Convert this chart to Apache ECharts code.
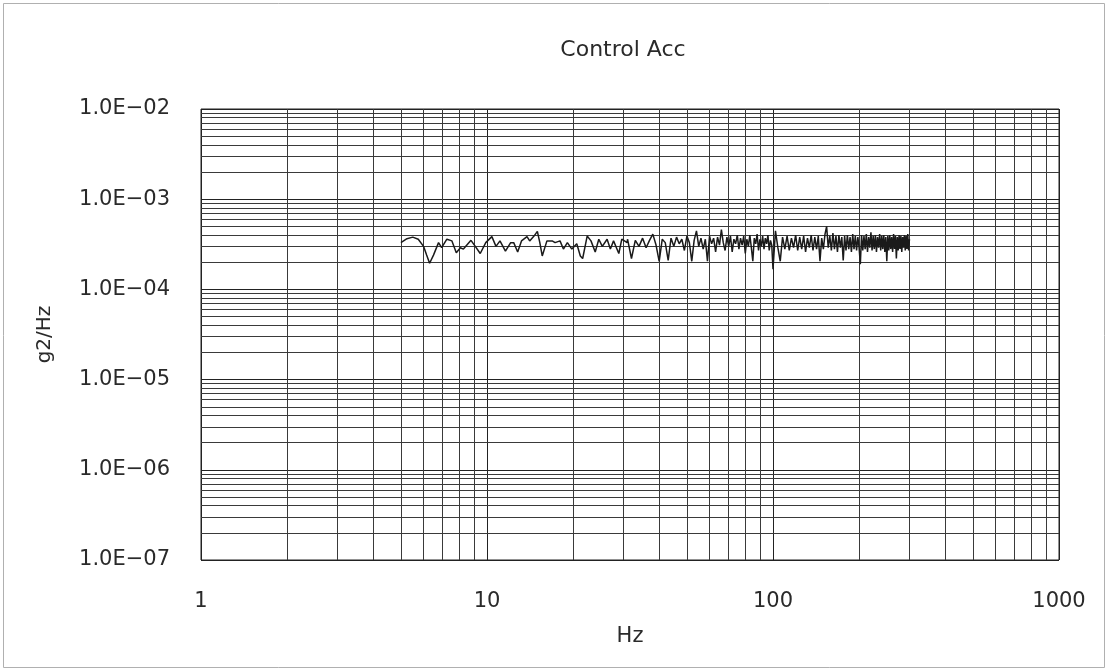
<!DOCTYPE html>
<html>
<head>
<meta charset="utf-8">
<script src="https://cdn.jsdelivr.net/npm/echarts@6/dist/echarts.min.js"></script>
<style>
html,body{margin:0;padding:0;background:#fff;}
#chart{width:1109px;height:672px;}
</style>
</head>
<body>
<div id="chart"></div>
<script>
// Frequencies (Hz) and PSD values (g2/Hz)
const freqHz = [
  5.0, 5.25, 5.5, 5.75, 6.0, 6.15, 6.3, 6.5, 6.77, 6.94, 7.24, 7.54, 7.81, 8.07, 8.27, 8.79, 9.1, 9.47, 9.9,
  10.4, 10.75, 11.1, 11.6, 12.1, 12.4, 12.8, 13.2, 13.8, 14.1, 14.6, 15.0, 15.3, 15.6, 16.2, 16.9, 17.3, 18.0,
  18.5, 19.1, 19.8, 20.6, 21.2, 21.6, 22.4, 23.1, 23.9, 24.6, 25.3, 26.3, 27.0, 27.7, 28.9, 29.6, 30.9,
  31, 32, 33, 34, 35, 36, 37, 38, 39, 40, 41, 42, 43, 44, 45, 46, 47, 48, 49, 50,
  51, 52, 53, 54, 55, 56, 57, 58, 59, 60, 61, 62, 63, 64, 65, 66, 67, 68, 69, 70,
  71, 72, 73, 74, 75, 76, 77, 78, 79, 80, 81, 82, 83, 84, 85, 86, 87, 88, 89, 90,
  91, 92, 93, 94, 95, 96, 97, 98, 99,
  100, 102, 104, 106, 108, 110, 112, 114, 116, 118, 120, 122, 124, 126, 128, 130, 132, 134, 136, 138,
  140, 142, 144, 146, 148, 150, 152, 154, 156, 158, 160, 162, 164, 166, 168, 170, 172, 174, 176, 178,
  180, 182, 184, 186, 188, 190, 192, 194, 196, 198, 200, 202, 204, 206, 208, 210, 212, 214, 216, 218,
  220, 222, 224, 226, 228, 230, 232, 234, 236, 238, 240, 242, 244, 246, 248, 250, 252, 254, 256, 258,
  260, 262, 264, 266, 268, 270, 272, 274, 276, 278, 280, 282, 284, 286, 288, 290, 292, 294, 296, 298, 300
];
const psdG2Hz = [
  3.3e-4, 3.65e-4, 3.8e-4, 3.6e-4, 3.0e-4, 2.4e-4, 1.95e-4, 2.4e-4, 3.3e-4, 2.9e-4, 3.6e-4, 3.45e-4, 2.55e-4, 2.9e-4, 2.8e-4, 3.5e-4, 3.0e-4, 2.5e-4, 3.3e-4,
  3.85e-4, 3.0e-4, 3.45e-4, 2.65e-4, 3.3e-4, 3.3e-4, 2.6e-4, 3.45e-4, 3.85e-4, 3.45e-4, 3.9e-4, 4.4e-4, 3.3e-4, 2.35e-4, 3.45e-4, 3.45e-4, 3.3e-4, 3.45e-4,
  2.8e-4, 3.3e-4, 2.8e-4, 3.2e-4, 2.35e-4, 2.2e-4, 3.9e-4, 3.45e-4, 2.6e-4, 3.6e-4, 3.0e-4, 3.6e-4, 2.8e-4, 3.45e-4, 2.5e-4, 3.6e-4, 3.3e-4,
  3.6e-4, 2.2e-4, 3.5e-4, 3.0e-4, 3.7e-4, 2.9e-4, 3.5e-4, 4.1e-4, 3.1e-4, 2.05e-4, 3.6e-4, 3.3e-4, 2.1e-4, 3.7e-4, 3.0e-4, 3.8e-4, 3.2e-4, 3.6e-4, 2.7e-4, 3.9e-4,
  3.3e-4, 2.05e-4, 3.5e-4, 4.45e-4, 3.0e-4, 3.7e-4, 2.8e-4, 3.6e-4, 2.05e-4, 3.9e-4, 3.2e-4, 3.7e-4, 2.6e-4, 3.8e-4, 3.1e-4, 4.6e-4, 3.3e-4, 2.7e-4, 3.8e-4, 3.0e-4,
  3.9e-4, 2.6e-4, 3.6e-4, 3.2e-4, 4.0e-4, 2.8e-4, 3.7e-4, 3.1e-4, 3.9e-4, 2.5e-4, 3.6e-4, 3.0e-4, 4.0e-4, 2.9e-4, 2.05e-4, 3.7e-4, 3.2e-4, 4.1e-4, 2.7e-4, 3.6e-4,
  3.0e-4, 3.9e-4, 2.8e-4, 3.7e-4, 3.2e-4, 4.0e-4, 2.7e-4, 3.5e-4, 3.1e-4,
  1.67e-4, 4.45e-4, 2.9e-4, 2.05e-4, 3.8e-4, 2.8e-4, 3.9e-4, 2.7e-4, 3.7e-4, 2.9e-4, 4.0e-4, 2.7e-4, 3.8e-4, 2.8e-4, 3.9e-4, 2.6e-4, 3.7e-4, 2.9e-4, 4.0e-4, 2.7e-4,
  3.8e-4, 2.8e-4, 3.9e-4, 2.05e-4, 3.7e-4, 2.8e-4, 4.1e-4, 5.0e-4, 2.9e-4, 3.9e-4, 2.7e-4, 4.2e-4, 2.8e-4, 3.9e-4, 2.6e-4, 4.0e-4, 2.9e-4, 3.8e-4, 2.1e-4, 3.9e-4,
  2.7e-4, 4.0e-4, 2.8e-4, 3.8e-4, 2.6e-4, 4.1e-4, 2.8e-4, 3.9e-4, 2.7e-4, 3.8e-4, 2.9e-4, 1.9e-4, 4.0e-4, 2.7e-4, 3.9e-4, 2.8e-4, 4.1e-4, 2.6e-4, 3.8e-4, 2.9e-4,
  4.3e-4, 2.7e-4, 3.9e-4, 2.8e-4, 4.0e-4, 2.6e-4, 3.8e-4, 2.9e-4, 4.1e-4, 2.7e-4, 3.9e-4, 2.8e-4, 4.0e-4, 2.6e-4, 3.8e-4, 2.05e-4, 3.9e-4, 2.7e-4, 4.0e-4, 2.8e-4,
  3.8e-4, 2.6e-4, 4.1e-4, 2.8e-4, 3.9e-4, 2.2e-4, 3.8e-4, 2.7e-4, 4.0e-4, 2.8e-4, 3.9e-4, 2.6e-4, 3.8e-4, 2.9e-4, 4.0e-4, 2.7e-4, 3.9e-4, 2.8e-4, 4.1e-4, 2.7e-4, 3.6e-4
];

// Axis ticks and labels
const xTickValues = [1, 10, 100, 1000];
const xTickLabels = ['1', '10', '100', '1000'];
const yTickValues = [1e-7, 1e-6, 1e-5, 1e-4, 1e-3, 1e-2];
const yTickLabels = ['1.0E\u221207', '1.0E\u221206', '1.0E\u221205', '1.0E\u221204', '1.0E\u221203', '1.0E\u221202'];
const minorMultipliers = [2, 3, 4, 5, 6, 7, 8, 9];

const titleText = 'Control Acc';
const xName = 'Hz';
const yName = 'g2/Hz';

function tickIndex(values, v) {
  let best = 0, bd = Infinity;
  values.forEach(function (t, i) {
    const d = Math.abs(Math.log10(t) - Math.log10(v));
    if (d < bd) { bd = d; best = i; }
  });
  return bd < 1e-6 ? best : -1;
}

// Minor grid positions (2..9 within each decade)
const xMinor = [];
xTickValues.slice(0, -1).forEach(function (d) { minorMultipliers.forEach(function (m) { xMinor.push(m * d); }); });
const yMinor = [];
yTickValues.slice(0, -1).forEach(function (d) { minorMultipliers.forEach(function (m) { yMinor.push(m * d); }); });

const xMin = xTickValues[0], xMax = xTickValues[xTickValues.length - 1];
const yMin = yTickValues[0], yMax = yTickValues[yTickValues.length - 1];

const minorGridLines = xMinor.map(function (v) { return { coords: [[v, yMin], [v, yMax]] }; })
  .concat(yMinor.map(function (v) { return { coords: [[xMin, v], [xMax, v]] }; }));

const seriesData = freqHz.map(function (f, i) { return [f, psdG2Hz[i]]; });

const FONT = 'DejaVu Sans';
const chart = echarts.init(document.getElementById('chart'), null, { renderer: 'canvas' });
chart.setOption({
  animation: false,
  backgroundColor: '#ffffff',
  title: {
    text: titleText,
    left: 618,
    top: 34,
    textAlign: 'center',
    textStyle: { fontFamily: FONT, fontSize: 22, fontWeight: 'normal', color: '#2a2a2a' }
  },
  graphic: [{
    type: 'rect',
    shape: { x: 3.5, y: 3.5, width: 1101, height: 664 },
    style: { fill: 'none', stroke: '#b0b0b0', lineWidth: 1 },
    silent: true
  }],
  grid: {
    left: 201, right: 50, top: 109, bottom: 112,
    show: true, borderColor: '#222', borderWidth: 1, backgroundColor: 'transparent'
  },
  xAxis: {
    type: 'log', logBase: 10, min: xMin, max: xMax,
    name: xName, nameLocation: 'middle', nameGap: 66,
    nameTextStyle: { fontFamily: FONT, fontSize: 21, color: '#2a2a2a' },
    axisLine: { show: false },
    axisTick: { show: false },
    axisLabel: {
      fontFamily: FONT, fontSize: 21, color: '#2a2a2a', margin: 31,
      formatter: function (v) { const i = tickIndex(xTickValues, v); return i >= 0 ? xTickLabels[i] : ''; }
    },
    splitLine: { show: true, lineStyle: { color: '#222', width: 1 } }
  },
  yAxis: {
    type: 'log', logBase: 10, min: yMin, max: yMax,
    name: yName, nameLocation: 'middle', nameGap: 146, nameRotate: 90,
    nameTextStyle: { fontFamily: FONT, fontSize: 20, color: '#2a2a2a' },
    axisLine: { show: false },
    axisTick: { show: false },
    axisLabel: {
      fontFamily: FONT, fontSize: 21, color: '#2a2a2a', margin: 31,
      formatter: function (v) { const i = tickIndex(yTickValues, v); return i >= 0 ? yTickLabels[i] : ''; }
    },
    splitLine: { show: true, lineStyle: { color: '#222', width: 1 } }
  },
  series: [
    {
      name: 'minorGrid',
      type: 'lines',
      coordinateSystem: 'cartesian2d',
      polyline: false,
      silent: true,
      z: 1,
      symbol: ['none', 'none'],
      lineStyle: { color: '#3a3a3a', width: 1, opacity: 1, curveness: 0 },
      emphasis: { disabled: true },
      data: minorGridLines
    },
    {
      name: 'Control Acc',
      type: 'line',
      data: seriesData,
      z: 5,
      showSymbol: false,
      symbol: 'none',
      lineStyle: { color: '#1a1a1a', width: 1.5 },
      emphasis: { disabled: true }
    }
  ]
});
</script>
</body>
</html>
